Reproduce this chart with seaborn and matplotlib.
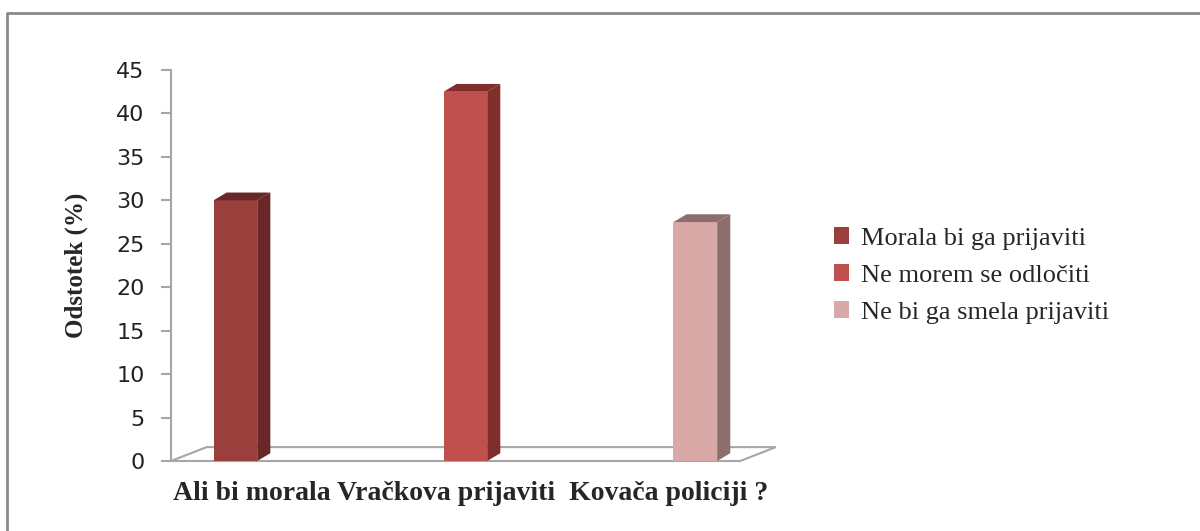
import pandas as pd
import seaborn as sns
import matplotlib.pyplot as plt
from matplotlib.patches import Polygon
from matplotlib.lines import Line2D

# data
answers = ['Morala bi ga prijaviti', 'Ne morem se odločiti', 'Ne bi ga smela prijaviti']
percent = [30, 42.5, 27.5]
front_colors = ['#9B3F3D', '#C0504D', '#D9A9A8']
side_colors = ['#6A2727', '#7F2E2C', '#8C6E6E']
y_ticks = [0, 5, 10, 15, 20, 25, 30, 35, 40, 45]

df = pd.DataFrame({'answer': answers, 'percent': percent})

sns.set_style('white')
fig = plt.figure(figsize=(12, 5.31), dpi=100)
ax = fig.add_axes([0.1425, 0.1318, 0.504, 0.7363])

sns.barplot(data=df, x='answer', y='percent', hue='answer', palette=front_colors,
            width=0.19, saturation=1, legend=True, linewidth=0, ax=ax)

xmin, xmax = -0.28, 2.35
ax.set_xlim(xmin, xmax)
ax.set_ylim(0, 45)

# fake 3D: floor, side and top faces from the drawn bars
dx, dy = 0.155, 1.6
floor = Polygon([(xmin, 0), (xmax - dx, 0), (xmax, dy), (xmin + dx, dy)],
                closed=True, facecolor='none', edgecolor='#A6A6A6', lw=1.5,
                clip_on=False, zorder=0.5)
ax.add_patch(floor)

bdx, bdy = 0.057, 0.9
for bar, side in zip(ax.patches[:len(answers)], side_colors):
    x, w, h = bar.get_x(), bar.get_width(), bar.get_height()
    ax.add_patch(Polygon([(x + w, 0), (x + w + bdx, bdy), (x + w + bdx, h + bdy), (x + w, h)],
                         closed=True, facecolor=side, edgecolor='none', clip_on=False, zorder=3))
    ax.add_patch(Polygon([(x, h), (x + bdx, h + bdy), (x + w + bdx, h + bdy), (x + w, h)],
                         closed=True, facecolor=side, edgecolor='none', clip_on=False, zorder=3))

ax.set_yticks(y_ticks)
ax.tick_params(axis='y', direction='out', length=7, width=1.5, color='#A6A6A6',
               pad=12, labelsize=16, labelcolor='#222222', left=True)
ax.set_xticks([])
for side in ['top', 'right', 'bottom']:
    ax.spines[side].set_visible(False)
ax.spines['left'].set_color('#A6A6A6')
ax.spines['left'].set_linewidth(1.5)

ax.set_xlabel('')
ax.set_ylabel('Odstotek (%)', family='Liberation Serif', fontweight='bold', fontsize=18)
ax.yaxis.set_label_coords(-0.137, 0.5)
fig.text(471 / 1200, 1 - 493 / 531, 'Ali bi morala Vračkova prijaviti  Kovača policiji ?',
         family='Liberation Serif', fontweight='bold', fontsize=20,
         ha='center', va='center')

ax.legend(loc='upper left', bbox_to_anchor=(0.695, 0.572), bbox_transform=fig.transFigure,
          frameon=False, borderpad=0, borderaxespad=0, labelspacing=0.55,
          handlelength=0.58, handleheight=0.58, handletextpad=0.45,
          prop={'family': 'Liberation Serif', 'size': 19})

# frame around the picture (left and top only)
fig.add_artist(Line2D([7 / 1200, 7 / 1200, 1], [0, 1 - 13 / 531, 1 - 13 / 531],
                      transform=fig.transFigure, color='#888888', lw=2))

fig.savefig('out.png', dpi=100)
